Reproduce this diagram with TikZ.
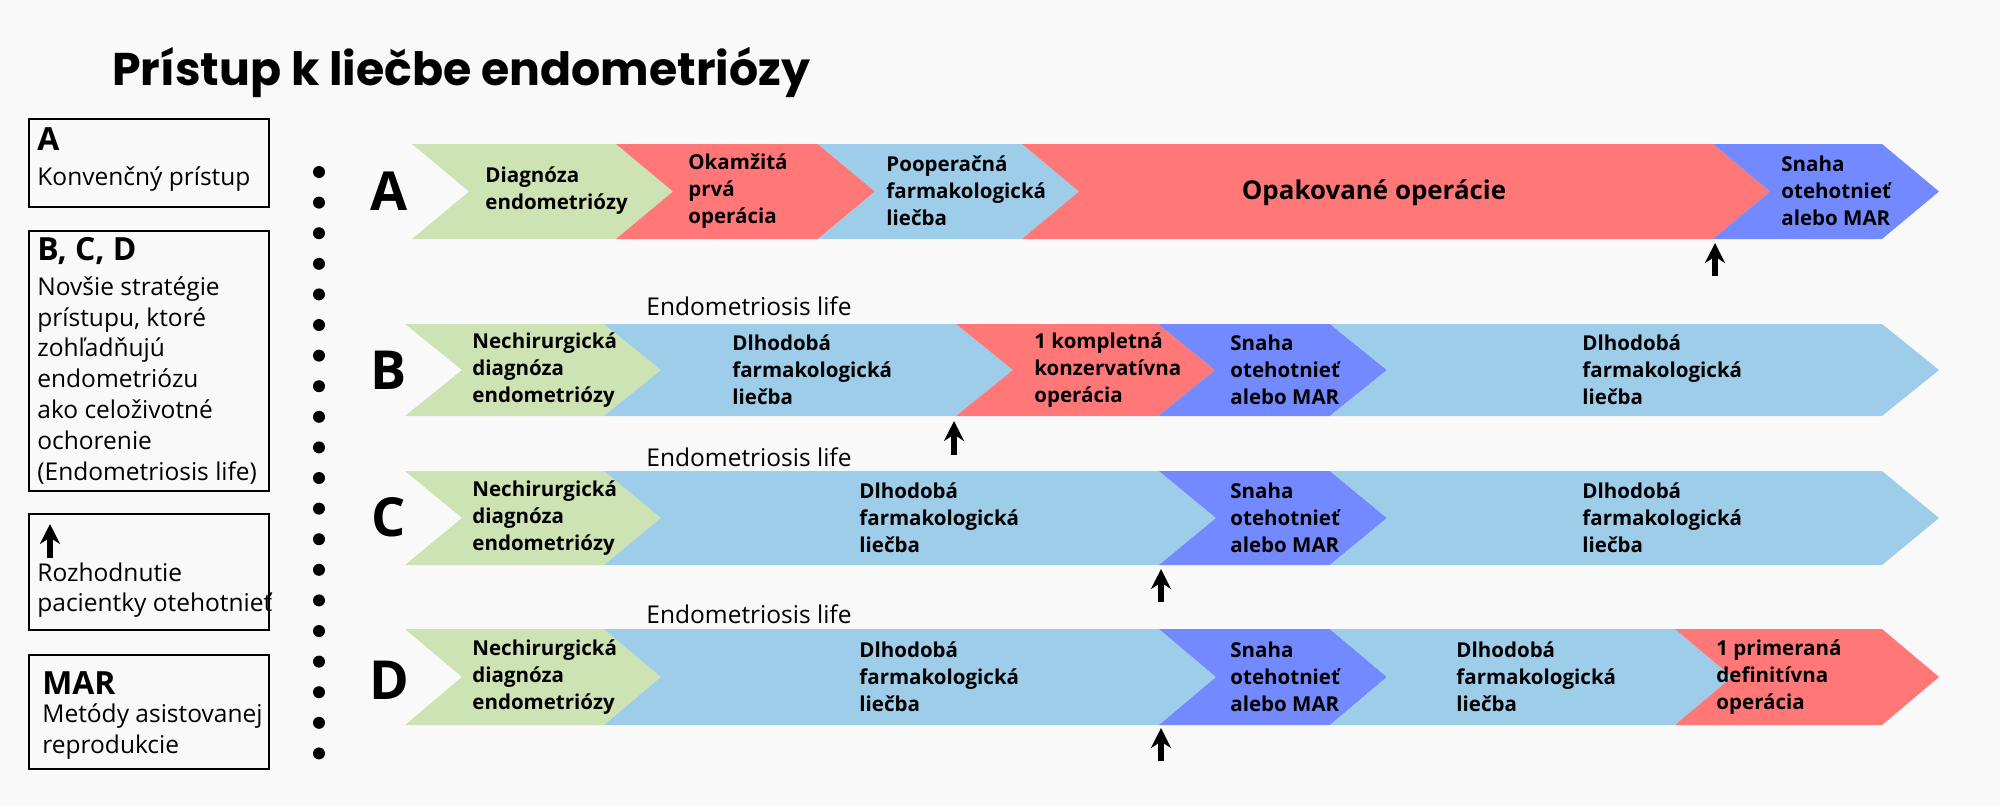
\documentclass[tikz,border=0pt]{standalone}
\usepackage{fontspec}
\setmainfont{Open Sans}
\newfontfamily\titlefont{Poppins}
\usetikzlibrary{arrows.meta}
\definecolor{cg}{HTML}{CDE3B3}
\definecolor{cr}{HTML}{FF7777}
\definecolor{cb}{HTML}{9ECDE9}
\definecolor{cmar}{HTML}{7289FF}
\definecolor{bg}{HTML}{F9F9F9}
\begin{document}
\begin{tikzpicture}[x=0.5bp,y=-0.5bp,
  seg/.style={inner sep=0pt,align=left,font=\fontsize{10.3}{13.5}\selectfont\bfseries,anchor=west},
  box/.style={draw=black,line width=1.2pt},
  btxt/.style={inner sep=0pt,anchor=west,align=left,font=\fontsize{12.3}{15.5}\selectfont},
  letter/.style={font=\fontsize{27}{27}\selectfont\bfseries,inner sep=0pt},
  life/.style={font=\fontsize{12.3}{14}\selectfont,inner sep=0pt},
  up/.style={-{Stealth[length=10bp,width=10bp]},line width=3bp}]
\fill[bg] (0,0) rectangle (2000,806);
\useasboundingbox (0,0) rectangle (2000,806);
\def\d{57}
\newcommand\chev[5]{\fill[#1] (#2,#4) -- ({#3-\d},#4) -- (#3,{(#4+#5)/2}) -- ({#3-\d},#5) -- (#2,#5) -- ({#2+\d},{(#4+#5)/2}) -- cycle;}
\node[font=\titlefont\fontsize{23}{25}\selectfont\bfseries,anchor=west,inner sep=0pt] (title) at (112,72) {Prístup k liečbe endometriózy};
% left boxes
\draw[box] (29,119) rectangle (269,207);
\node[btxt,font=\fontsize{16}{18}\selectfont\bfseries] (ba) at (37,139) {A};
\node[btxt] (bat) at (37,179) {Konvenčný prístup};
\draw[box] (29,231) rectangle (269,491);
\node[btxt,font=\fontsize{16}{18}\selectfont\bfseries] (bb) at (37,251) {B, C, D};
\node[btxt,anchor=north west] (bbt) at (37,276) {Novšie stratégie\\prístupu, ktoré\\zohľadňujú\\endometriózu\\ako celoživotné\\ochorenie\\(Endometriosis life)};
\draw[box] (29,514) rectangle (269,630);
\coordinate (bu1) at (50,558); \coordinate (bu2) at (50,524);
\draw[up] (bu1) -- (bu2);
\node[btxt,anchor=north west] (but) at (37,562) {Rozhodnutie\\pacientky otehotnieť};
\draw[box] (29,655) rectangle (269,769);
\node[btxt,font=\fontsize{16}{18}\selectfont\bfseries] (bm) at (42,683) {MAR};
\node[btxt,anchor=north west] (bmt) at (42,703) {Metódy asistovanej\\reprodukcie};
% dots
\foreach \i in {0,...,19} \fill (319,{172+\i*30.6}) circle (6);
% letters
\node[letter] (LA) at (389,191) {A};
\node[letter] (LB) at (389,370) {B};
\node[letter] (LC) at (389,517) {C};
\node[letter] (LD) at (389,680) {D};
% Row A
\chev{cg}{412}{673}{144}{239}
\chev{cr}{616}{875}{144}{239}
\chev{cb}{818}{1079}{144}{239}
\chev{cr}{1022}{1770}{144}{239}
\chev{cmar}{1713}{1939}{144}{239}
\node[seg] (a1) at (485,191) {Diagnóza\\endometriózy};
\node[seg] (a2) at (688,191) {Okamžitá\\prvá\\operácia};
\node[seg] (a3) at (886,191) {Pooperačná\\farmakologická\\liečba};
\node[seg,anchor=center,font=\fontsize{13}{15}\selectfont\bfseries] (a4) at (1374,193) {Opakované operácie};
\node[seg] (a5) at (1781,191) {Snaha\\otehotnieť\\alebo MAR};
\coordinate (ua1) at (1715,276); \coordinate (ua2) at (1715,243);
\draw[up] (ua1) -- (ua2);
% Row B
\node[life] (lb) at (749,306) {Endometriosis life};
\chev{cg}{405}{661}{324}{416}
\chev{cb}{604}{1013}{324}{416}
\chev{cr}{956}{1215}{324}{416}
\chev{cmar}{1158}{1387}{324}{416}
\chev{cb}{1330}{1939}{324}{416}
\node[seg] (b1) at (472,370) {Nechirurgická\\diagnóza\\endometriózy};
\node[seg] (b2) at (732,370) {Dlhodobá\\farmakologická\\liečba};
\node[seg] (b3) at (1034,370) {1 kompletná\\konzervatívna\\operácia};
\node[seg] (b4) at (1230,370) {Snaha\\otehotnieť\\alebo MAR};
\node[seg] (b5) at (1582,370) {Dlhodobá\\farmakologická\\liečba};
\coordinate (ub1) at (954,455); \coordinate (ub2) at (954,421);
\draw[up] (ub1) -- (ub2);
% Row C
\node[life] (lc) at (749,457) {Endometriosis life};
\chev{cg}{405}{661}{471}{565}
\chev{cb}{604}{1216}{471}{565}
\chev{cmar}{1159}{1387}{471}{565}
\chev{cb}{1330}{1939}{471}{565}
\node[seg] (c1) at (472,518) {Nechirurgická\\diagnóza\\endometriózy};
\node[seg] (c2) at (859,518) {Dlhodobá\\farmakologická\\liečba};
\node[seg] (c3) at (1230,518) {Snaha\\otehotnieť\\alebo MAR};
\node[seg] (c4) at (1582,518) {Dlhodobá\\farmakologická\\liečba};
\coordinate (uc1) at (1161,602); \coordinate (uc2) at (1161,569);
\draw[up] (uc1) -- (uc2);
% Row D
\node[life] (ld) at (749,614) {Endometriosis life};
\chev{cg}{405}{661}{629}{725}
\chev{cb}{604}{1216}{629}{725}
\chev{cmar}{1159}{1387}{629}{725}
\chev{cb}{1330}{1732}{629}{725}
\chev{cr}{1675}{1939}{629}{725}
\node[seg] (d1) at (472,677) {Nechirurgická\\diagnóza\\endometriózy};
\node[seg] (d2) at (859,677) {Dlhodobá\\farmakologická\\liečba};
\node[seg] (d3) at (1230,677) {Snaha\\otehotnieť\\alebo MAR};
\node[seg] (d4) at (1456,677) {Dlhodobá\\farmakologická\\liečba};
\node[seg] (d5) at (1716,677) {1 primeraná\\definitívna\\operácia};
\coordinate (ud1) at (1161,761); \coordinate (ud2) at (1161,728);
\draw[up] (ud1) -- (ud2);
\end{tikzpicture}
\end{document}
